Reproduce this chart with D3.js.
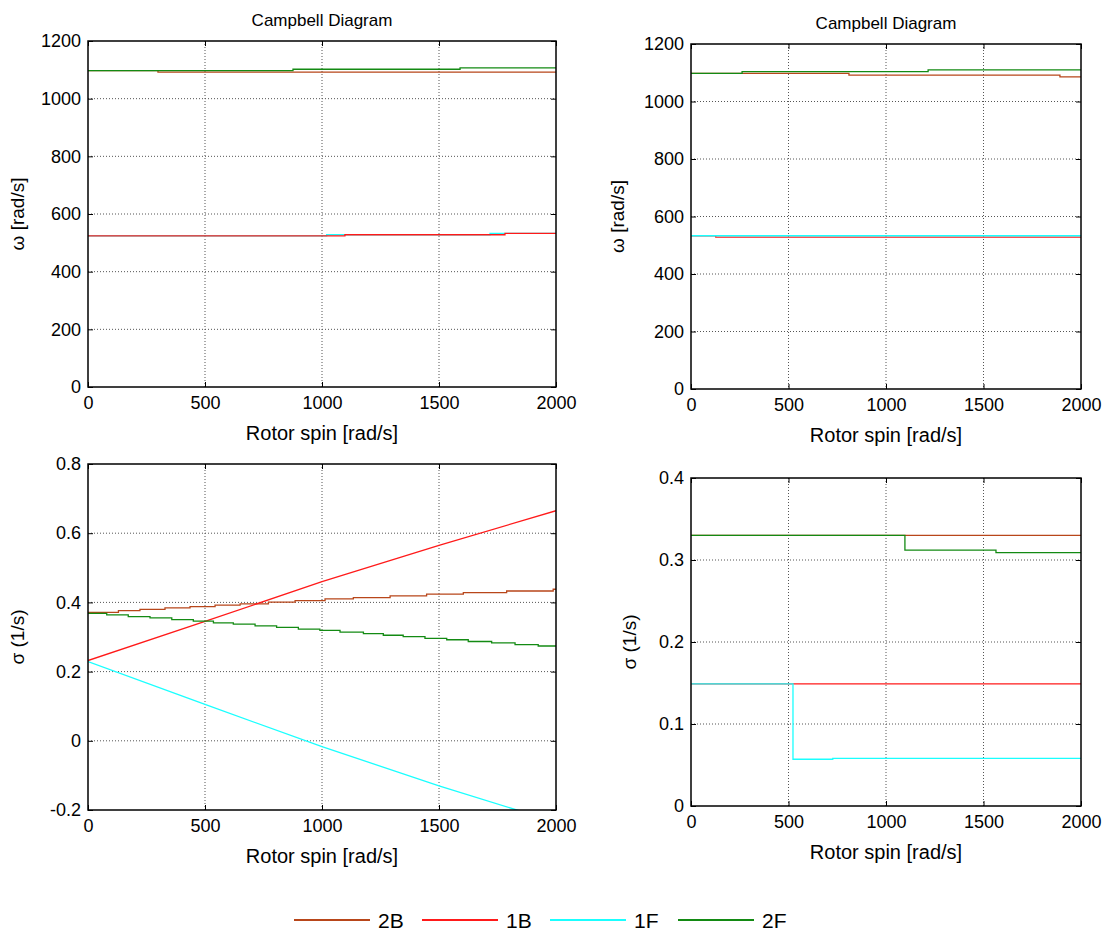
<!DOCTYPE html>
<html lang="en">
<head>
    <meta charset="UTF-8">
    <title>Campbell Diagram</title>
    <script src="https://d3js.org/d3.v7.min.js"></script>
</head>

<style>
    body { margin: 0; background: #fff; }
    text { font-family: "Liberation Sans", Arial, sans-serif; fill: #000; }
    .grid line { stroke: #555; stroke-width: 1px; stroke-dasharray: 1,2; }
    .frame { fill: none; stroke: #000; stroke-width: 1.5px; }
    .series { fill: none; stroke-width: 1.3px; }
</style>

<body>
<svg width="1111" height="936"></svg>

<script>
    // mode names and colours (legend order)
    var modes = ["2B", "1B", "1F", "2F"];
    var modeColors = {"2B": "#b8461a", "1B": "#ff1a1a", "1F": "#1affff", "2F": "#138a13"};

    var xTicks = [0, 500, 1000, 1500, 2000];
    var omegaTicks = [0, 200, 400, 600, 800, 1000, 1200];
    var sigmaTicksL = [-0.2, 0, 0.2, 0.4, 0.6, 0.8];
    var sigmaTicksR = [0, 0.1, 0.2, 0.3, 0.4];

    // top-left: natural frequency [rad/s] vs spin (step points)
    var tl2B = [[0, 1097], [299, 1092], [2000, 1092]];
    var tl1B = [[0, 524], [1098, 528], [1782, 533], [2000, 533]];
    var tl1F = [[0, 524], [1020, 528], [1718, 533], [2000, 533]];
    var tl2F = [[0, 1097], [876, 1102], [1590, 1107], [2000, 1107]];

    // top-right
    var tr2B = [[0, 1098], [810, 1092], [1892, 1086], [2000, 1086]];
    var tr1B = [[0, 533], [127, 528], [2000, 528]];
    var tr1F = [[0, 533], [2000, 533]];
    var tr2F = [[0, 1098], [262, 1104], [1216, 1110], [2000, 1110]];

    // bottom-left: decay rate
    var bl2B = [[0, 0.371], [130, 0.376], [222, 0.380], [329, 0.384], [436, 0.388], [543, 0.392],
                [650, 0.396], [771, 0.401], [885, 0.405], [1013, 0.410], [1134, 0.414], [1291, 0.419],
                [1447, 0.424], [1604, 0.428], [1789, 0.433], [1988, 0.438], [2000, 0.438]];
    var bl1B = [[0, 0.232], [500, 0.345], [1000, 0.46], [1500, 0.565], [2000, 0.665]];
    var bl1F = [[0, 0.229], [500, 0.105], [1000, -0.017], [1500, -0.13], [2000, -0.235]];
    var bl2F = [[0, 0.368], [80, 0.364], [172, 0.359], [265, 0.355], [358, 0.350], [450, 0.346],
                [536, 0.341], [621, 0.337], [714, 0.332], [806, 0.328], [899, 0.323], [991, 0.319],
                [1077, 0.314], [1177, 0.310], [1262, 0.305], [1347, 0.301], [1440, 0.296], [1533, 0.292],
                [1625, 0.287], [1725, 0.283], [1825, 0.278], [1924, 0.274], [2000, 0.274]];

    // bottom-right
    var br2B = [[0, 0.33], [2000, 0.33]];
    var br1B = [[0, 0.149], [2000, 0.149]];
    var br1F = [[0, 0.149], [523, 0.057], [727, 0.058], [2000, 0.058]];
    var br2F = [[0, 0.33], [1097, 0.312], [1564, 0.309], [2000, 0.309]];

    var step = d3.curveStepAfter, straight = d3.curveLinear;

    var panels = [
        {box: [88, 41, 556, 387], yDomain: [0, 1200], yTicks: omegaTicks, title: "Campbell Diagram",
         ylab: "\u03c9 [rad/s]", ylabX: 24,
         series: [["2B", tl2B, step], ["1F", tl1F, step], ["1B", tl1B, step], ["2F", tl2F, step]]},
        {box: [691, 44, 1081, 389], yDomain: [0, 1200], yTicks: omegaTicks, title: "Campbell Diagram",
         ylab: "\u03c9 [rad/s]", ylabX: 624,
         series: [["2B", tr2B, step], ["1B", tr1B, step], ["1F", tr1F, step], ["2F", tr2F, step]]},
        {box: [88, 464, 556, 810], yDomain: [-0.2, 0.8], yTicks: sigmaTicksL, title: null,
         ylab: "\u03c3 (1/s)", ylabX: 24,
         series: [["2B", bl2B, step], ["1B", bl1B, straight], ["1F", bl1F, straight], ["2F", bl2F, step]]},
        {box: [691, 478, 1081, 806], yDomain: [0, 0.4], yTicks: sigmaTicksR, title: null,
         ylab: "\u03c3 (1/s)", ylabX: 636,
         series: [["2B", br2B, step], ["1B", br1B, step], ["1F", br1F, step], ["2F", br2F, step]]}
    ];

    var svg = d3.select("svg");
    var defs = svg.append("defs");
    var plain = function (d) { return String(d); };

    panels.forEach(function (p, i) {
        var x0 = p.box[0], y0 = p.box[1], x1 = p.box[2], y1 = p.box[3];
        var x = d3.scaleLinear().domain([0, 2000]).range([x0, x1]);
        var y = d3.scaleLinear().domain(p.yDomain).range([y1, y0]);
        var g = svg.append("g");

        defs.append("clipPath").attr("id", "clip" + i)
            .append("rect").attr("x", x0).attr("y", y0).attr("width", x1 - x0).attr("height", y1 - y0);

        // grid
        var grid = g.append("g").attr("class", "grid");
        grid.selectAll("line.v").data(xTicks.slice(1, -1)).enter().append("line")
            .attr("x1", d => x(d)).attr("x2", d => x(d)).attr("y1", y0).attr("y2", y1);
        grid.selectAll("line.h").data(p.yTicks.filter(t => y(t) > y0 + 1 && y(t) < y1 - 1)).enter().append("line")
            .attr("x1", x0).attr("x2", x1).attr("y1", d => y(d)).attr("y2", d => y(d));

        // series
        g.append("g").attr("clip-path", "url(#clip" + i + ")")
            .selectAll("path").data(p.series).enter().append("path")
            .attr("class", "series")
            .attr("stroke", d => modeColors[d[0]])
            .attr("d", d => d3.line().x(v => x(v[0])).y(v => y(v[1])).curve(d[2])(d[1]));

        // axes: labels outside, ticks inward on all four sides
        var ax = g.append("g").attr("transform", "translate(0," + y1 + ")")
            .call(d3.axisBottom(x).tickValues(xTicks).tickFormat(plain).tickSizeInner(-5).tickSizeOuter(0).tickPadding(9));
        var ay = g.append("g").attr("transform", "translate(" + x0 + ",0)")
            .call(d3.axisLeft(y).tickValues(p.yTicks).tickFormat(plain).tickSizeInner(-5).tickSizeOuter(0).tickPadding(7));
        g.append("g").attr("transform", "translate(0," + y0 + ")")
            .call(d3.axisTop(x).tickValues(xTicks).tickSizeInner(-5).tickSizeOuter(0).tickFormat(""));
        g.append("g").attr("transform", "translate(" + x1 + ",0)")
            .call(d3.axisRight(y).tickValues(p.yTicks).tickSizeInner(-5).tickSizeOuter(0).tickFormat(""));
        g.selectAll(".domain").remove();
        g.selectAll(".tick line").attr("stroke", "#000");
        ax.selectAll("text").style("font-size", "18px");
        ay.selectAll("text").style("font-size", "18px");

        g.append("rect").attr("class", "frame")
            .attr("x", x0).attr("y", y0).attr("width", x1 - x0).attr("height", y1 - y0);

        // labels
        g.append("text").attr("x", (x0 + x1) / 2).attr("y", y1 + 53)
            .attr("text-anchor", "middle").style("font-size", "20px").text("Rotor spin [rad/s]");
        g.append("text").attr("transform", "translate(" + p.ylabX + "," + ((y0 + y1) / 2) + ") rotate(-90)")
            .attr("text-anchor", "middle").style("font-size", "19px").text(p.ylab);
        if (p.title) {
            g.append("text").attr("x", (x0 + x1) / 2).attr("y", y0 - 15)
                .attr("text-anchor", "middle").style("font-size", "17px").text(p.title);
        }
    });

    // legend
    var legendX = [294, 422, 550, 678];
    var legend = svg.append("g").selectAll("g").data(modes).enter().append("g")
        .attr("transform", (d, i) => "translate(" + legendX[i] + ",920)");
    legend.append("line").attr("x1", 0).attr("x2", 76).attr("y1", 0).attr("y2", 0)
        .attr("stroke", d => modeColors[d]).attr("stroke-width", 2);
    legend.append("text").attr("x", 84).attr("y", 0).attr("dy", "0.36em")
        .style("font-size", "21px").text(d => d);
</script>
</body>
</html>
